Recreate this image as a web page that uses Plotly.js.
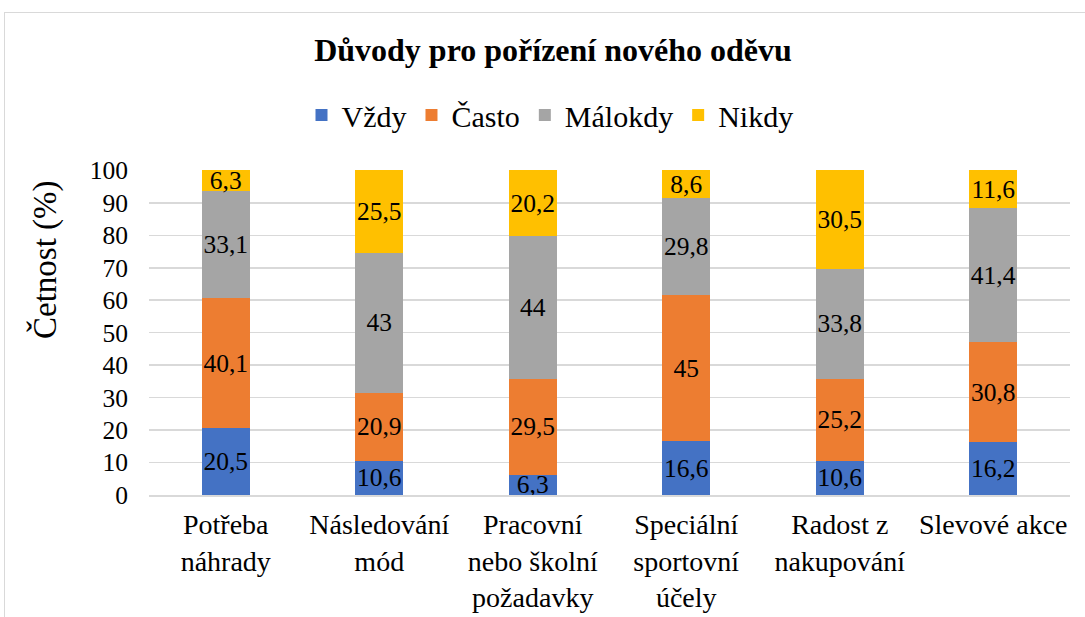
<!DOCTYPE html>
<html>
<head>
<meta charset="utf-8">
<script src="https://cdn.plot.ly/plotly-3.0.1.min.js"></script>
<style>
html,body{margin:0;padding:0;background:#fff;}
#wrap{position:relative;width:1085px;height:617px;overflow:hidden;}
#chart{width:1085px;height:617px;}
#frame{position:absolute;left:4px;top:12px;width:1200px;height:700px;border:1px solid #d9d9d9;pointer-events:none;}
#chart text{font-family:'Liberation Serif', serif !important;}
</style>
</head>
<body>
<div id="wrap"><div id="chart"></div><div id="frame"></div></div>
<script>
var categories = ["Potřeba<br>náhrady", "Následování<br>mód", "Pracovní<br>nebo školní<br>požadavky", "Speciální<br>sportovní<br>účely", "Radost z<br>nakupování", "Slevové akce"];
var seriesNames = ["Vždy", "Často", "Málokdy", "Nikdy"];
var vzdy = [20.5, 10.6, 6.3, 16.6, 10.6, 16.2];
var casto = [40.1, 20.9, 29.5, 45, 25.2, 30.8];
var malokdy = [33.1, 43, 44, 29.8, 33.8, 41.4];
var nikdy = [6.3, 25.5, 20.2, 8.6, 30.5, 11.6];
var colors = ["#4472C4", "#ED7D31", "#A5A5A5", "#FFC000"];
var yTicks = [0, 10, 20, 30, 40, 50, 60, 70, 80, 90, 100];
var yTitle = "Četnost (%)";

var FONT = "'Liberation Serif', serif";
var all = [vzdy, casto, malokdy, nikdy];
var traces = all.map(function(vals, i){
  return {
    type: "bar",
    name: seriesNames[i],
    x: categories,
    y: vals,
    marker: {color: colors[i], line: {width: 0}},
    text: vals.map(function(v){ return String(v).replace(".", ","); }),
    textposition: "inside",
    insidetextanchor: "middle",
    textangle: 0,
    textfont: {family: FONT, size: 25.5, color: "#000"},
    hoverinfo: "skip",
    cliponaxis: false
  };
});

var layout = {
  width: 1085, height: 617,
  barmode: "stack",
  bargap: 0.69,
  paper_bgcolor: "#fff",
  plot_bgcolor: "#fff",
  margin: {l: 149, r: 15, t: 170, b: 122, autoexpand: false},
  font: {family: FONT, color: "#000"},
  uniformtext: {mode: "show", minsize: 25},
  title: {
    text: "<b>Důvody pro pořízení nového oděvu</b>",
    font: {family: FONT, size: 32, color: "#000"},
    x: 553/1085, xanchor: "center",
    yref: "container", y: 1 - 50/617, yanchor: "middle"
  },
  showlegend: true,
  legend: {
    orientation: "h",
    x: (550-149)/921, xanchor: "center",
    y: (495-115)/325, yanchor: "middle",
    font: {family: FONT, size: 30, color: "#000"},
    traceorder: "normal",
    itemwidth: 30
  },
  annotations: [{
    text: yTitle,
    xref: "paper", yref: "paper",
    x: (45-149)/921, y: (495-260)/325,
    xanchor: "center", yanchor: "middle",
    textangle: -90, showarrow: false,
    font: {family: FONT, size: 33, color: "#000"}
  }],
  xaxis: {
    type: "category",
    tickfont: {family: FONT, size: 28, color: "#000"},
    tickangle: 0,
    showgrid: false,
    showline: true, linecolor: "#d9d9d9", linewidth: 1.5,
    ticks: "", ticklabelstandoff: 4, fixedrange: true, automargin: false
  },
  yaxis: {
    range: [0, 100.12],
    tickvals: yTicks,
    tickfont: {family: FONT, size: 25.5, color: "#000"},
    showgrid: true, gridcolor: "#d9d9d9", gridwidth: 1.5,
    zeroline: false, showline: false,
    ticks: "", ticklabelstandoff: 20, automargin: false,
    fixedrange: true
  }
};

Plotly.newPlot("chart", traces, layout, {displayModeBar: false, staticPlot: true});
</script>
</body>
</html>
